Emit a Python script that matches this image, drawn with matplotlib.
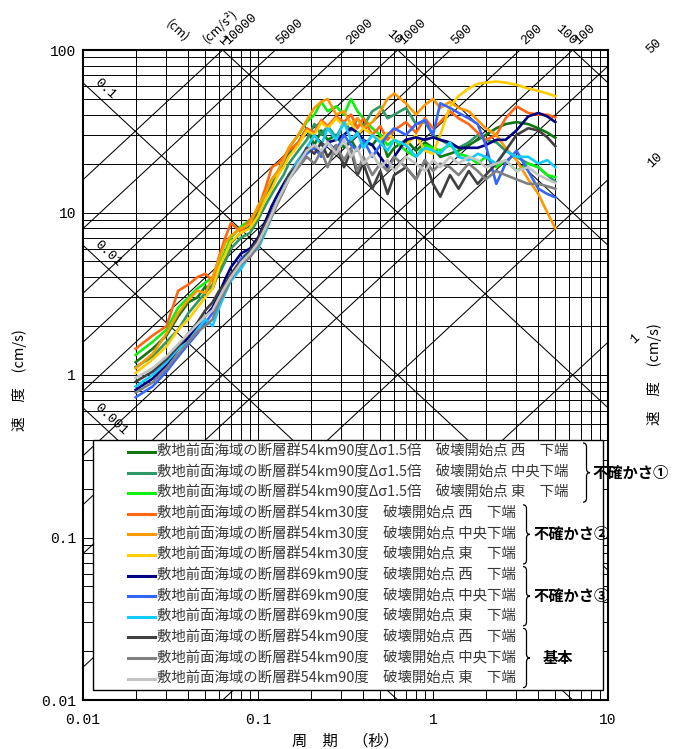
import numpy as np
import matplotlib
matplotlib.use("Agg")
import matplotlib.pyplot as plt
from matplotlib.path import Path
from matplotlib.patches import PathPatch, Rectangle
from matplotlib.ticker import LogLocator, NullFormatter, FixedLocator, FixedFormatter

plt.rcParams['font.family'] = ['Noto Sans CJK JP', 'DejaVu Sans']

# periods (s)
periods = [0.02, 0.025, 0.03, 0.035, 0.04, 0.045, 0.05, 0.055, 0.06, 0.065,
           0.07, 0.08, 0.09, 0.1, 0.11, 0.12, 0.13, 0.14, 0.15, 0.17,
           0.19, 0.21, 0.23, 0.25, 0.28, 0.31, 0.34, 0.37, 0.4, 0.45,
           0.5, 0.55, 0.6, 0.7, 0.8, 0.9, 1.0, 1.1, 1.25, 1.4,
           1.6, 1.8, 2.0, 2.3, 2.6, 3.0, 3.5, 4.0, 4.5, 5.0]

# pseudo velocity (cm/s)
ds15_west = [1.2, 1.45, 1.75, 2.3, 2.8, 3.0, 3.5, 3.4, 4.4, 5.5,
             6.5, 7.5, 8.2, 10, 12.5, 15, 17, 20, 23, 27,
             33, 26, 32, 28, 30, 25, 28, 24, 27, 26,
             30, 22, 25, 28, 24, 27, 25, 22, 23, 24,
             26, 28, 30, 33, 35, 36, 35, 33, 31, 28.8]
ds15_center = [1.12, 1.3, 1.6, 1.9, 2.4, 2.8, 3.2, 3.6, 4.2, 5.0,
               6.0, 7.0, 7.5, 9.0, 11, 13, 15, 17, 20, 24,
               28, 35, 30, 34, 29, 36, 32, 38, 34, 42,
               45, 38, 40, 44, 35, 36, 30, 28, 26, 25,
               27, 30, 28, 27, 24, 22, 20, 19, 17, 15.5]
ds15_east = [1.33, 1.6, 1.9, 2.6, 3.0, 3.4, 3.7, 4.0, 4.8, 5.8,
             7.0, 8.2, 9.0, 10.5, 13, 16, 18, 21, 25, 30,
             36, 40, 48, 42, 45, 40, 50, 42, 38, 33,
             30, 26, 28, 24, 22, 26, 25, 24, 26, 23,
             22, 20, 22, 19, 21, 18, 20, 19, 17, 16.5]
dip30_west = [1.45, 1.75, 2.0, 3.3, 3.6, 4.0, 4.2, 3.8, 5.4, 7.0,
              8.6, 7.6, 9.0, 10.5, 14, 19, 20, 22, 24, 27,
              33, 31, 37, 34, 39, 36, 40, 33, 38, 30,
              34, 28, 32, 36, 31, 38, 33, 36, 42, 38,
              35, 31, 28, 30, 38, 45, 41, 40, 40, 38.5]
dip30_center = [1.1, 1.35, 1.8, 2.4, 2.9, 3.3, 3.2, 4.0, 5.2, 6.5,
                7.2, 8.0, 8.5, 11, 13, 16, 18, 21, 25, 30,
                37, 44, 48, 50, 40, 42, 35, 38, 33, 36,
                42, 50, 54, 47, 40, 46, 50, 44, 48, 44,
                42, 37, 33, 30, 25, 21, 16, 13, 10, 8]
dip30_east = [1.03, 1.25, 1.5, 1.9, 2.2, 2.6, 3.0, 3.4, 4.6, 5.5,
              6.6, 7.5, 8.0, 9.5, 12, 14, 17, 19, 22, 26,
              32, 30, 36, 33, 38, 34, 36, 30, 33, 30,
              28, 31, 28, 26, 30, 24, 23, 30, 45, 52,
              58, 62, 63, 64, 63, 61, 58, 56, 54, 52]
len69_west = [0.81, 0.95, 1.15, 1.45, 1.7, 2.0, 2.3, 2.6, 3.2, 3.9,
              4.6, 5.6, 6.0, 7.0, 8.8, 11, 13, 15, 17, 21,
              24, 26, 23, 27, 28, 30, 33, 31, 28, 26,
              22, 19, 22, 28, 29, 28, 29, 28, 27, 25,
              25, 25, 26, 28, 28, 32, 39, 41, 39, 36]
len69_center = [0.73, 0.85, 1.05, 1.3, 1.55, 1.8, 2.1, 2.4, 2.9, 3.5,
                4.1, 5.2, 5.8, 6.5, 8.0, 10, 12, 14, 17, 20,
                23, 25, 22, 27, 24, 30, 26, 24, 28, 22,
                26, 30, 33, 30, 35, 37, 30, 47, 44, 41,
                38, 35, 26, 15, 20, 24, 18, 14, 13, 12.4]
len69_east = [0.85, 1.0, 1.2, 1.45, 1.6, 1.9, 2.2, 2.0, 2.6, 3.2,
              3.8, 4.5, 5.5, 6.0, 7.5, 9.5, 12, 14, 17, 21,
              25, 30, 26, 33, 28, 36, 28, 31, 25, 30,
              27, 24, 28, 26, 22, 25, 24, 23, 27, 22,
              21, 23, 22, 20, 24, 22, 22, 20, 21, 19]
base_west = [0.91, 1.05, 1.25, 1.5, 1.8, 2.1, 2.5, 2.8, 3.3, 3.6,
             4.2, 5.0, 5.8, 6.8, 8.5, 10, 12, 14, 17, 20,
             25, 23, 27, 22, 26, 19, 24, 17, 20, 14,
             18, 13, 17, 19, 16, 21, 15, 12.5, 17, 14,
             18, 15, 17, 20, 24, 30, 33, 32, 29, 25.6]
base_center = [0.78, 0.9, 1.1, 1.35, 1.6, 1.85, 2.0, 2.2, 2.8, 3.3,
               3.9, 4.8, 5.3, 6.2, 7.8, 9.5, 11.5, 13.5, 16, 19,
               22, 20, 24, 19, 26, 21, 25, 18, 22, 17,
               20, 18, 22, 19, 16, 21, 18, 20, 19, 17,
               20, 18, 16, 18, 17, 16, 15, 15, 14.5, 14]
base_east = [0.96, 1.1, 1.3, 1.55, 1.8, 2.05, 2.3, 2.5, 3.0, 3.5,
             4.0, 4.9, 5.6, 6.5, 8.0, 9.8, 12, 14, 16, 20,
             24, 26, 24, 27, 23, 28, 22, 25, 20, 23,
             19, 21, 18, 22, 20, 18, 21, 19, 22, 20,
             22, 21, 19, 20, 21, 18, 19, 17, 16, 15.2]

series = [ds15_west, ds15_center, ds15_east,
          dip30_west, dip30_center, dip30_east,
          len69_west, len69_center, len69_east,
          base_west, base_center, base_east]

labels = [
    "敷地前面海域の断層群54km90度Δσ1.5倍　破壊開始点 西　下端",
    "敷地前面海域の断層群54km90度Δσ1.5倍　破壊開始点 中央下端",
    "敷地前面海域の断層群54km90度Δσ1.5倍　破壊開始点 東　下端",
    "敷地前面海域の断層群54km30度　破壊開始点 西　下端",
    "敷地前面海域の断層群54km30度　破壊開始点 中央下端",
    "敷地前面海域の断層群54km30度　破壊開始点 東　下端",
    "敷地前面海域の断層群69km90度　破壊開始点 西　下端",
    "敷地前面海域の断層群69km90度　破壊開始点 中央下端",
    "敷地前面海域の断層群69km90度　破壊開始点 東　下端",
    "敷地前面海域の断層群54km90度　破壊開始点 西　下端",
    "敷地前面海域の断層群54km90度　破壊開始点 中央下端",
    "敷地前面海域の断層群54km90度　破壊開始点 東　下端",
]
colors = ["#117711", "#2e9966", "#11ee11",
          "#ff6611", "#ff9900", "#ffcc00",
          "#000080", "#3366ff", "#11ccff",
          "#404040", "#808080", "#c4c4c4"]

group_names = ["不確かさ①", "不確かさ②", "不確かさ③", "基本"]

# tripartite guide lines
disp_values = [0.001, 0.01, 0.1, 1, 10, 100]             # cm
acc_values = [1, 10, 50, 100, 200, 500, 1000, 2000, 5000, 10000]  # cm/s2

x_ticks = [0.01, 0.1, 1, 10]
x_ticklabels = ["0.01", "0.1", "1", "10"]
y_ticks = [0.01, 0.1, 1, 10, 100]
y_ticklabels = ["0.01", "0.1", "1", "10", "100"]

W, H = 675, 749
L, R, T, B = 83, 608, 50, 700   # axes box in pixels

fig = plt.figure(figsize=(W / 100, H / 100), dpi=100)
ax = fig.add_axes([L / W, (H - B) / H, (R - L) / W, (B - T) / H])
ax.set_xscale("log")
ax.set_yscale("log")

def px(x, y):
    # pixel position -> axes fraction
    return (x - L) / (R - L), (B - y) / (B - T)

tt = np.array([0.01, 10.0])
for a in acc_values:
    ax.plot(tt, a * tt / (2 * np.pi), color="k", lw=0.75, zorder=1)
for d in disp_values:
    ax.plot(tt, 2 * np.pi * d / tt, color="k", lw=0.75, zorder=1)

for vals, c in zip(series, colors):
    ax.plot(periods, vals, color=c, lw=1.9, zorder=3)

ax.set_xlim(0.01, 10)
ax.set_ylim(0.01, 100)
for axis in (ax.xaxis, ax.yaxis):
    axis.set_minor_locator(LogLocator(base=10, subs=np.arange(2, 10)))
    axis.set_minor_formatter(NullFormatter())
ax.xaxis.set_major_locator(FixedLocator(x_ticks))
ax.xaxis.set_major_formatter(FixedFormatter(x_ticklabels))
ax.yaxis.set_major_locator(FixedLocator(y_ticks))
ax.yaxis.set_major_formatter(FixedFormatter(y_ticklabels))
ax.grid(True, which="both", color="k", lw=0.7, zorder=0)
ax.set_axisbelow(True)
ax.tick_params(which="both", length=0)
ax.tick_params(axis="x", pad=9)
ax.tick_params(axis="y", pad=5)
for lab in ax.get_xticklabels() + ax.get_yticklabels():
    lab.set_family("Liberation Mono")
    lab.set_fontsize(10.5)
for s in ax.spines.values():
    s.set_linewidth(1.5)

mono = dict(family="Liberation Mono", fontsize=9.5, clip_on=False,
            rotation_mode="anchor")
ang = 43
# acceleration labels
for a in acc_values:
    te = 2 * np.pi * 100 / a
    if te <= 10:
        ax.text(te * 1.1, 104, str(a), rotation=ang, ha="left", va="bottom", **mono)
    else:
        ve = a * 10 / (2 * np.pi)
        f = 0.95 if a < 5 else 1.15
        tx = 14.5 if a < 5 else 18.0
        ax.text(tx, ve * f, str(a), rotation=ang, ha="left", va="bottom", **mono)
# displacement labels
for d in disp_values:
    te = 2 * np.pi * d / 100
    if te >= 0.01:
        ax.text(te * 0.97, 104, str(d), rotation=-ang, ha="right", va="bottom", **mono)
    else:
        ax.text(0.0113, 2 * np.pi * d / 0.0113 * 1.1, str(d), rotation=-ang,
                ha="left", va="bottom", **mono)
ax.text(0.0348, 131, "(cm)", rotation=-ang, ha="center", va="center",
        fontsize=9, clip_on=False)
ax.text(0.0606, 141, "(cm/s²)", rotation=ang, ha="center", va="center",
        fontsize=9, clip_on=False)

# legend drawn by hand
x0, y0 = px(93, 440)
x1, y1 = px(603, 690)
ax.add_patch(Rectangle((x0, y1), x1 - x0, y0 - y1, transform=ax.transAxes,
                       facecolor="white", edgecolor="k", lw=1.0, zorder=5,
                       clip_on=False))
row0, dy = 452, 20.6
for i, (lab, c) in enumerate(zip(labels, colors)):
    yy = row0 + i * dy
    ax.plot([px(128, yy)[0], px(155, yy)[0]], [px(0, yy)[1]] * 2,
            color=c, lw=2.2, transform=ax.transAxes, zorder=6, clip_on=False)
    ax.text(*px(157, yy), lab, transform=ax.transAxes, fontsize=10.4,
            color="#383838", ha="left", va="center", zorder=6, clip_on=False)

def brace(xl, ytop, ybot, w=7):
    ym = (ytop + ybot) / 2
    xm = xl + w / 2
    pts = [(xl, ytop), (xm, ytop), (xm, ytop + 4),
           (xm, ym - 4), (xm, ym), (xl + w, ym),
           (xm, ym), (xm, ym + 4),
           (xm, ybot - 4), (xm, ybot), (xl, ybot)]
    codes = [Path.MOVETO, Path.CURVE3, Path.CURVE3,
             Path.LINETO, Path.CURVE3, Path.CURVE3,
             Path.CURVE3, Path.CURVE3,
             Path.LINETO, Path.CURVE3, Path.CURVE3]
    p = Path([px(*q) for q in pts], codes)
    ax.add_patch(PathPatch(p, transform=ax.transAxes, facecolor="none",
                           edgecolor="k", lw=0.9, zorder=6, clip_on=False))

brace_x = [583, 523, 523, 523]
text_x = [592, 533, 533, 543]
for g, name in enumerate(group_names):
    ytop = row0 + 3 * g * dy - 9
    ybot = row0 + (3 * g + 2) * dy + 9
    brace(brace_x[g], ytop, ybot)
    ax.text(*px(text_x[g], (ytop + ybot) / 2), name, transform=ax.transAxes,
            fontsize=11, fontweight="bold", ha="left", va="center", zorder=6,
            clip_on=False)

fig.text(345 / W, 1 - 741 / H, "周　期　（秒）", ha="center", va="center", fontsize=11)
fig.text(20 / W, 1 - 380 / H, "速　度　(cm/s)", ha="center", va="center",
         rotation=90, fontsize=10.5)
fig.text(655 / W, 1 - 374 / H, "速　度　(cm/s)", ha="center", va="center",
         rotation=90, fontsize=10.5)

fig.savefig("out.png", dpi=100)
